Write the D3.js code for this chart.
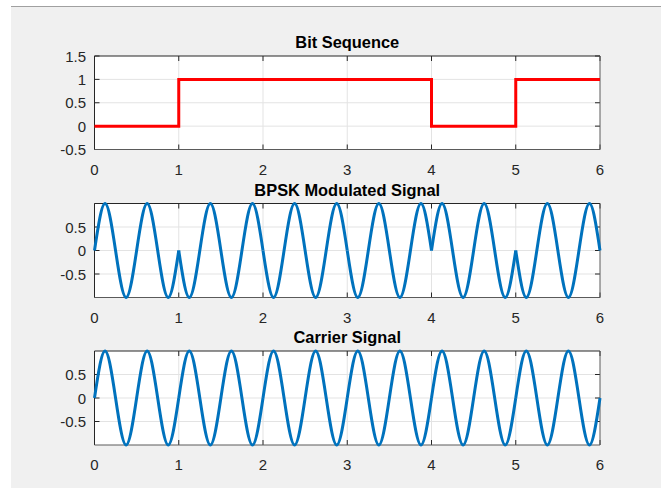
<!DOCTYPE html>
<html>
<head>
<meta charset="utf-8">
<script src="https://cdn.jsdelivr.net/npm/d3@7"></script>
<style>
  body { margin: 0; background: #fff; }
  svg { display: block; font-family: "Liberation Sans", Arial, sans-serif; }
</style>
</head>
<body>
<svg id="chart" width="665" height="488"></svg>
<script>
// bit values at the start of each interval (last point closes the step at t=6)
const bitTimes = [0, 1, 2, 3, 4, 5, 6];
const bitValues = [0, 1, 1, 1, 0, 1, 1];

// signal samples read at quarter periods of the carrier
const sampleTimes = [
  0, 0.125, 0.25, 0.375, 0.5, 0.625, 0.75, 0.875,
  1, 1.125, 1.25, 1.375, 1.5, 1.625, 1.75, 1.875,
  2, 2.125, 2.25, 2.375, 2.5, 2.625, 2.75, 2.875,
  3, 3.125, 3.25, 3.375, 3.5, 3.625, 3.75, 3.875,
  4, 4.125, 4.25, 4.375, 4.5, 4.625, 4.75, 4.875,
  5, 5.125, 5.25, 5.375, 5.5, 5.625, 5.75, 5.875,
  6
];
const bpskValues = [
  0, 1, 0, -1, 0, 1, 0, -1,
  0, -1, 0, 1, 0, -1, 0, 1,
  0, -1, 0, 1, 0, -1, 0, 1,
  0, -1, 0, 1, 0, -1, 0, 1,
  0, 1, 0, -1, 0, 1, 0, -1,
  0, -1, 0, 1, 0, -1, 0, 1,
  0
];
const carrierValues = [
  0, 1, 0, -1, 0, 1, 0, -1,
  0, 1, 0, -1, 0, 1, 0, -1,
  0, 1, 0, -1, 0, 1, 0, -1,
  0, 1, 0, -1, 0, 1, 0, -1,
  0, 1, 0, -1, 0, 1, 0, -1,
  0, 1, 0, -1, 0, 1, 0, -1,
  0
];

const xTicks = [0, 1, 2, 3, 4, 5, 6];
const bitYTicks = [-0.5, 0, 0.5, 1, 1.5];
const sigYTicks = [-0.5, 0, 0.5];

const svg = d3.select("#chart");
const axColor = "#262626";

// figure background
svg.append("rect")
  .attr("x", 11).attr("y", 6)
  .attr("width", 650).attr("height", 482)
  .attr("fill", "#f0f0f0");
svg.append("line")
  .attr("x1", 11).attr("x2", 661).attr("y1", 6.5).attr("y2", 6.5)
  .attr("stroke", "#a0a0a0");

const left = 94.5, right = 600;
const x = d3.scaleLinear().domain([0, 6]).range([left, right]);

function drawAxes(top, bottom, yDomain, yTicks, title) {
  const y = d3.scaleLinear().domain(yDomain).range([bottom, top]);
  const g = svg.append("g");

  g.append("rect")
    .attr("x", left).attr("y", top)
    .attr("width", right - left).attr("height", bottom - top)
    .attr("fill", "#fff");

  // grid
  g.selectAll(".gx").data(xTicks.slice(1, -1)).enter().append("line")
    .attr("x1", d => x(d)).attr("x2", d => x(d))
    .attr("y1", top).attr("y2", bottom)
    .attr("stroke", "#e3e3e3");
  g.selectAll(".gy").data(yTicks.filter(d => d > yDomain[0] && d < yDomain[1])).enter().append("line")
    .attr("x1", left).attr("x2", right)
    .attr("y1", d => y(d)).attr("y2", d => y(d))
    .attr("stroke", "#e3e3e3");

  // ticks (inward)
  g.selectAll(".tx").data(xTicks).enter().append("path")
    .attr("d", d => `M${x(d)},${bottom}v-5M${x(d)},${top}v5`)
    .attr("stroke", axColor);
  g.selectAll(".ty").data(yTicks).enter().append("path")
    .attr("d", d => `M${left},${y(d)}h5M${right},${y(d)}h-5`)
    .attr("stroke", axColor);

  // tick labels
  g.selectAll(".lx").data(xTicks).enter().append("text")
    .attr("x", d => x(d)).attr("y", bottom + 25)
    .attr("text-anchor", "middle")
    .attr("font-size", 15).attr("fill", axColor)
    .text(d => d);
  g.selectAll(".ly").data(yTicks).enter().append("text")
    .attr("x", left - 8.5).attr("y", d => y(d) + 5.5)
    .attr("text-anchor", "end")
    .attr("font-size", 15).attr("fill", axColor)
    .text(d => d);

  g.append("text")
    .attr("x", (left + right) / 2).attr("y", top - 8)
    .attr("text-anchor", "middle")
    .attr("font-size", 16.4).attr("font-weight", "bold").attr("fill", "#000")
    .text(title);

  return { g, y, top, bottom };
}

function drawBox(ax) {
  ax.g.append("path")
    .attr("d", `M${left},${ax.bottom}V${ax.top}H${right}`)
    .attr("fill", "none").attr("stroke", axColor);
  ax.g.append("path")
    .attr("d", `M${left},${ax.bottom}H${right}V${ax.top}`)
    .attr("fill", "none").attr("stroke", "#5a5a5a");
}

// Bit Sequence
const ax1 = drawAxes(56, 149.5, [-0.5, 1.5], bitYTicks, "Bit Sequence");
drawBox(ax1);
ax1.g.append("path")
  .datum(bitTimes.map((t, i) => [t, bitValues[i]]))
  .attr("fill", "none")
  .attr("stroke", "#ff0000")
  .attr("stroke-width", 3)
  .attr("d", d3.line().x(d => x(d[0])).y(d => ax1.y(d[1])).curve(d3.curveStepAfter));

// draw a sampled signal, one smooth piece per bit interval
function drawSignal(ax, values) {
  const line = d3.line().x(d => x(d[0])).y(d => ax.y(d[1])).curve(d3.curveNatural);
  for (let k = 0; k < 6; k++) {
    const pts = [];
    for (let i = k * 8; i <= k * 8 + 8; i++) pts.push([sampleTimes[i], values[i]]);
    ax.g.append("path")
      .datum(pts)
      .attr("fill", "none")
      .attr("stroke", "#0072bd")
      .attr("stroke-width", 3)
      .attr("stroke-linejoin", "round")
      .attr("d", line);
  }
}

const ax2 = drawAxes(203.5, 297.5, [-1, 1], sigYTicks, "BPSK Modulated Signal");
drawBox(ax2);
drawSignal(ax2, bpskValues);

const ax3 = drawAxes(351, 445, [-1, 1], sigYTicks, "Carrier Signal");
drawBox(ax3);
drawSignal(ax3, carrierValues);
</script>
</body>
</html>
